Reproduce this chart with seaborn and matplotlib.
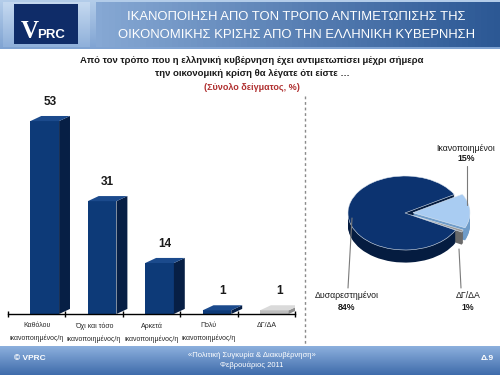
import numpy as np
import matplotlib
matplotlib.use("Agg")
import matplotlib.pyplot as plt
import seaborn as sns
from matplotlib.patches import Polygon
from matplotlib.lines import Line2D
from matplotlib.colors import LinearSegmentedColormap

# ---------------- data ----------------
categories = ["Καθόλου\nικανοποιημένος/η", "Όχι και τόσο\nικανοποιημένος/η",
              "Αρκετά\nικανοποιημένος/η", "Πολύ\nικανοποιημένος/η", "ΔΓ/ΔΑ"]
values = [53, 31, 14, 1, 1]
pie_labels = ["Ικανοποιημένοι", "ΔΓ/ΔΑ", "Δυσαρεστημένοι"]
pie_values = [15, 1, 84]

title_lines = ["ΙΚΑΝΟΠΟΙΗΣΗ ΑΠΟ ΤΟΝ ΤΡΟΠΟ ΑΝΤΙΜΕΤΩΠΙΣΗΣ ΤΗΣ",
               "ΟΙΚΟΝΟΜΙΚΗΣ ΚΡΙΣΗΣ ΑΠΟ ΤΗΝ ΕΛΛΗΝΙΚΗ ΚΥΒΕΡΝΗΣΗ"]
subtitle = "Από τον τρόπο που η ελληνική κυβέρνηση έχει αντιμετωπίσει μέχρι σήμερα\nτην οικονομική κρίση θα λέγατε ότι είστε …"
subnote = "(Σύνολο δείγματος, %)"

sns.set_theme(style="white")
FONT = ["Liberation Sans Narrow", "Liberation Sans", "DejaVu Sans"]
plt.rcParams["font.family"] = FONT

W, H = 500, 375
fig = plt.figure(figsize=(5, 3.75), dpi=100)
fig.patch.set_facecolor("white")

def fx(x):
    return x / W

def fy(y):
    return 1 - y / H

def grad_box(x0, y0, x1, y1, c0, c1, horizontal=False, z=0):
    ax = fig.add_axes([fx(x0), fy(y1), fx(x1) - fx(x0), fy(y0) - fy(y1)], zorder=z)
    cmap = LinearSegmentedColormap.from_list("g", [c0, c1])
    g = np.linspace(0, 1, 64)
    arr = g[None, :] if horizontal else g[:, None]
    ax.imshow(arr, aspect="auto", cmap=cmap, extent=[0, 1, 1, 0])
    ax.set_axis_off()
    return ax

# ---------------- header ----------------
grad_box(0, 0, 500, 49, "#b4cdea", "#7fa3d2", z=0)
grad_box(96, 2, 500, 47, "#86a8d4", "#2c5894", horizontal=True, z=1)
grad_box(3, 2, 90, 47, "#c5d9f0", "#8fb0da", z=1)
logo = fig.add_axes([fx(14), fy(44), fx(78) - fx(14), fy(4) - fy(44)], zorder=2)
logo.set_facecolor("#0f2c68")
logo.set_xticks([]); logo.set_yticks([])
for s in logo.spines.values():
    s.set_visible(False)
fig.text(fx(21), fy(38), "V", color="white", fontsize=18, fontweight="bold",
         family=["Liberation Serif", "DejaVu Serif"], zorder=5)
fig.text(fx(37), fy(38), "PRC", color="white", fontsize=9.5, fontweight="bold",
         family=["Liberation Sans", "DejaVu Sans"], zorder=5)
fig.text(fx(296), fy(17), title_lines[0], color="white", fontsize=9.4, ha="center",
         va="center", zorder=5)
fig.text(fx(296), fy(35), title_lines[1], color="white", fontsize=9.4, ha="center",
         va="center", zorder=5)

# subtitle
fig.text(fx(252), fy(67), subtitle, color="#1a1a1a", fontsize=6.8, fontweight="bold",
         ha="center", va="center", linespacing=1.45)
fig.text(fx(252), fy(87), subnote, color="#b03030", fontsize=6.5, fontweight="bold",
         ha="center", va="center")

# ---------------- footer ----------------
grad_box(0, 346, 500, 375, "#8fb2df", "#3f6cab", z=0)
fig.text(fx(14), fy(359), "© VPRC", color="white", fontsize=6, fontweight="bold",
         va="center", zorder=5)
fig.text(fx(252), fy(355), "«Πολιτική Συγκυρία & Διακυβέρνηση»", color="white",
         fontsize=5.5, ha="center", va="center", zorder=5)
fig.text(fx(252), fy(365), "Φεβρουάριος 2011", color="white", fontsize=5.5,
         ha="center", va="center", zorder=5)
fig.text(fx(487), fy(359), "Δ.9", color="white", fontsize=6, fontweight="bold",
         ha="center", va="center", zorder=5)

# separator
fig.add_artist(Line2D([fx(305), fx(305)], [fy(96), fy(345)], color="#8a8a8a",
                      lw=1, ls=(0, (2, 2))))

# ---------------- bar chart ----------------
ymax = 60
ax = fig.add_axes([fx(8), fy(314), fx(295) - fx(8), ymax * 3.64 / H])
ax.set_facecolor("none")
navy, navy_side, navy_top = "#0d3a78", "#071f45", "#1b4a8c"
gray, gray_side, gray_top = "#bdbdbd", "#8c8c8c", "#dadada"
front_cols = [navy] * 4 + [gray]
side_cols = [navy_side] * 4 + [gray_side]
top_cols = [navy_top] * 4 + [gray_top]

x_idx = list(range(len(categories)))
sns.barplot(x=x_idx, y=values, hue=x_idx, palette=front_cols, legend=False,
            width=0.5, ax=ax, saturation=1, linewidth=0)
dx, dy, shift = 0.19, 1.4, 0.14
for i, p in enumerate(ax.patches[:len(values)]):
    p.set_x(p.get_x() + shift)
    x0, w, h = p.get_x(), p.get_width(), p.get_height()
    x1 = x0 + w
    ax.add_patch(Polygon([(x1, 0), (x1 + dx, dy), (x1 + dx, h + dy), (x1, h)],
                         closed=True, facecolor=side_cols[i], edgecolor="none"))
    ax.add_patch(Polygon([(x0, h), (x1, h), (x1 + dx, h + dy), (x0 + dx, h + dy)],
                         closed=True, facecolor=top_cols[i], edgecolor="none"))
    ax.text(x0 + w / 2 + dx / 2, h + dy + 2.2, f"{values[i]}", ha="center",
            va="bottom", fontsize=8.5, fontweight="bold", color="#1a1a1a")

ax.set_xlim(-0.5, len(values) - 0.5)
ax.set_ylim(0, ymax)
ax.set_yticks([])
ax.set_xticks(x_idx)
ax.set_xticklabels(categories, fontsize=5, linespacing=2.0)
ax.set_xticks(np.arange(-0.5, len(values)), minor=True)
ax.tick_params(axis="x", which="major", length=0, pad=6)
ax.tick_params(axis="x", which="minor", length=4, direction="inout", width=1,
               color="black", bottom=True)
for s in ["top", "right", "left"]:
    ax.spines[s].set_visible(False)
ax.spines["bottom"].set_color("black")
ax.spines["bottom"].set_linewidth(1)
ax.set_xlabel(""); ax.set_ylabel("")

# ---------------- pie chart ----------------
cx, cy, rx, ry = 405, 213, 57, 37
lim = 1.4
pax = fig.add_axes([fx(cx - rx * lim), fy(cy + ry * lim), 2 * rx * lim / W,
                    2 * ry * lim / H])
pax.set_facecolor("none")
pie_top = ["#a9ccf2", "#9a9a9a", "#0c3370"]
pie_side = ["#6f9cc9", "#6a6a6a", "#051c40"]
explode = [0.14, 0.12, 0]
depth = 0.34
for off in np.linspace(depth, 0.02, 14):
    pax.pie(pie_values, colors=pie_side, startangle=30, counterclock=False,
            explode=explode, center=(0, -off), radius=1,
            wedgeprops=dict(linewidth=0))
pax.pie(pie_values, colors=pie_top, startangle=30, counterclock=False,
        explode=explode, center=(0, 0), radius=1,
        wedgeprops=dict(linewidth=0.4, edgecolor="#dfe8f2"))
pax.set_aspect("auto")
pax.set_xlim(-lim, lim)
pax.set_ylim(-lim, lim)
pax.set_axis_off()

# pie labels with leader lines
lbl_kw = dict(fontsize=6.3, ha="center", va="center", color="#1a1a1a")
fig.text(fx(466), fy(148), pie_labels[0], **lbl_kw)
fig.text(fx(466), fy(159), f"{pie_values[0]}%", fontweight="bold", **lbl_kw)
fig.text(fx(468), fy(296), pie_labels[1], **lbl_kw)
fig.text(fx(468), fy(307), f"{pie_values[1]}%", fontweight="bold", **lbl_kw)
fig.text(fx(347), fy(296), pie_labels[2], **lbl_kw)
fig.text(fx(347), fy(307), f"{pie_values[2]}%", fontweight="bold", **lbl_kw)
lc = "#7a7a7a"
fig.add_artist(Line2D([fx(467), fx(467)], [fy(166), fy(205)], color=lc, lw=0.8))
fig.add_artist(Line2D([fx(461), fx(459)], [fy(288), fy(249)], color=lc, lw=0.8))
fig.add_artist(Line2D([fx(348), fx(352)], [fy(288), fy(218)], color=lc, lw=0.8))

fig.savefig("out.png", dpi=100)
